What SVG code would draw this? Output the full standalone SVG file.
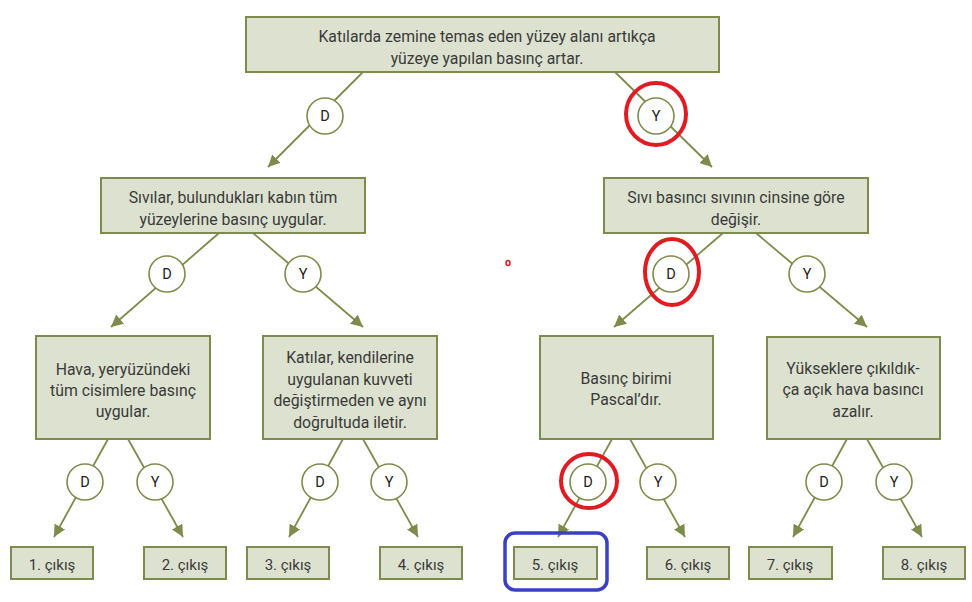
<svg xmlns="http://www.w3.org/2000/svg" width="972" height="602" viewBox="0 0 972 602">
<defs>
<style>
.box{fill:#dde2d0;stroke:#7d8c4c;stroke-width:2}
.t{font-family:Roboto,"Liberation Sans",sans-serif;font-size:15.8px;fill:#3a3a3a;text-anchor:middle}
.o{font-size:15px}
.c{fill:#fff;stroke:#7d8c4c;stroke-width:1.6}
.ct{font-family:Roboto,"Liberation Sans",sans-serif;font-size:14.5px;fill:#222;text-anchor:middle}
.ln{stroke:#7d8c4c;stroke-width:1.8;fill:none;marker-end:url(#ah)}
.red{fill:none;stroke:#e01b22;stroke-width:4}
</style>
<marker id="ah" markerUnits="userSpaceOnUse" markerWidth="14" markerHeight="12" refX="12" refY="6" orient="auto">
<path d="M0,0 L12,6 L0,12 Z" fill="#7d8c4c"/>
</marker>
</defs>
<rect width="972" height="602" fill="#fff"/>
<g id="connectors">
<line class="ln" x1="363" y1="72" x2="268" y2="167"/>
<line class="ln" x1="615" y1="72" x2="712" y2="167"/>
<line class="ln" x1="219" y1="233" x2="111" y2="327"/>
<line class="ln" x1="253" y1="233" x2="363" y2="327"/>
<line class="ln" x1="723" y1="233" x2="614" y2="327"/>
<line class="ln" x1="756" y1="233" x2="867" y2="327"/>
<line class="ln" x1="108" y1="439" x2="54" y2="537"/>
<line class="ln" x1="128" y1="439" x2="183" y2="537"/>
<line class="ln" x1="343" y1="439" x2="289" y2="537"/>
<line class="ln" x1="363" y1="439" x2="418" y2="537"/>
<line class="ln" x1="612" y1="439" x2="558" y2="537"/>
<line class="ln" x1="630" y1="439" x2="685" y2="537"/>
<line class="ln" x1="847" y1="439" x2="793" y2="537"/>
<line class="ln" x1="867" y1="439" x2="922" y2="537"/>
</g>
<g id="n-root"><rect class="box" x="246" y="17" width="473" height="55"/>
<text class="t" x="487" y="42">Katılarda zemine temas eden yüzey alanı artıkça</text>
<text class="t" x="487" y="64">yüzeye yapılan basınç artar.</text></g>
<g id="n-sivilar"><rect class="box" x="101" y="178" width="264" height="55"/>
<text class="t" x="233" y="203">Sıvılar, bulundukları kabın tüm</text>
<text class="t" x="233" y="225">yüzeylerine basınç uygular.</text></g>
<g id="n-sivi"><rect class="box" x="604" y="178" width="264" height="55"/>
<text class="t" x="736" y="203">Sıvı basıncı sıvının cinsine göre</text>
<text class="t" x="736" y="225">değişir.</text></g>
<g id="n-hava"><rect class="box" x="36" y="336" width="174" height="103"/>
<text class="t" x="123" y="375">Hava, yeryüzündeki</text>
<text class="t" x="123" y="396">tüm cisimlere basınç</text>
<text class="t" x="123" y="417">uygular.</text></g>
<g id="n-katilar"><rect class="box" x="263" y="336" width="174" height="103"/>
<text class="t" x="350" y="363">Katılar, kendilerine</text>
<text class="t" x="350" y="385">uygulanan kuvveti</text>
<text class="t" x="350" y="406">değiştirmeden ve aynı</text>
<text class="t" x="350" y="428">doğrultuda iletir.</text></g>
<g id="n-basinc"><rect class="box" x="540" y="336" width="173" height="103"/>
<text class="t" x="626" y="384">Basınç birimi</text>
<text class="t" x="626" y="405">Pascal’dır.</text></g>
<g id="n-yuksek"><rect class="box" x="767" y="337" width="173" height="102"/>
<text class="t" x="853" y="374">Yükseklere çıkıldık-</text>
<text class="t" x="853" y="395">ça açık hava basıncı</text>
<text class="t" x="853" y="417">azalır.</text></g>
<g id="circles">
<g id="c1"><circle class="c" cx="325" cy="116" r="18"/><text class="ct" x="325" y="121">D</text></g>
<g id="c2"><circle class="c" cx="656" cy="116" r="18"/><text class="ct" x="656" y="121">Y</text></g>
<g id="c3"><circle class="c" cx="167" cy="274" r="18"/><text class="ct" x="167" y="279">D</text></g>
<g id="c4"><circle class="c" cx="303" cy="274" r="18"/><text class="ct" x="303" y="279">Y</text></g>
<g id="c5"><circle class="c" cx="671" cy="274" r="18"/><text class="ct" x="671" y="279">D</text></g>
<g id="c6"><circle class="c" cx="807" cy="274" r="18"/><text class="ct" x="807" y="279">Y</text></g>
<g id="c7"><circle class="c" cx="85" cy="482" r="18"/><text class="ct" x="85" y="487">D</text></g>
<g id="c8"><circle class="c" cx="155" cy="482" r="18"/><text class="ct" x="155" y="487">Y</text></g>
<g id="c9"><circle class="c" cx="320" cy="482" r="18"/><text class="ct" x="320" y="487">D</text></g>
<g id="c10"><circle class="c" cx="389" cy="482" r="18"/><text class="ct" x="389" y="487">Y</text></g>
<g id="c11"><circle class="c" cx="588" cy="482" r="18"/><text class="ct" x="588" y="487">D</text></g>
<g id="c12"><circle class="c" cx="658" cy="482" r="18"/><text class="ct" x="658" y="487">Y</text></g>
<g id="c13"><circle class="c" cx="824" cy="482" r="18"/><text class="ct" x="824" y="487">D</text></g>
<g id="c14"><circle class="c" cx="894" cy="482" r="18"/><text class="ct" x="894" y="487">Y</text></g>
</g>
<g id="outputs">
<g id="o1"><rect class="box" x="11" y="547" width="82" height="32"/><text class="t o" x="52" y="570">1. çıkış</text></g>
<g id="o2"><rect class="box" x="144" y="547" width="82" height="32"/><text class="t o" x="185" y="570">2. çıkış</text></g>
<g id="o3"><rect class="box" x="247" y="547" width="82" height="32"/><text class="t o" x="288" y="570">3. çıkış</text></g>
<g id="o4"><rect class="box" x="380" y="547" width="82" height="32"/><text class="t o" x="421" y="570">4. çıkış</text></g>
<g id="o5"><rect class="box" x="514" y="547" width="83" height="32"/><text class="t o" x="555" y="570">5. çıkış</text></g>
<g id="o6"><rect class="box" x="647" y="547" width="82" height="32"/><text class="t o" x="688" y="570">6. çıkış</text></g>
<g id="o7"><rect class="box" x="749" y="547" width="83" height="32"/><text class="t o" x="790" y="570">7. çıkış</text></g>
<g id="o8"><rect class="box" x="883" y="547" width="82" height="32"/><text class="t o" x="924" y="570">8. çıkış</text></g>
</g>
<g id="marks">
<ellipse class="red" cx="656" cy="114" rx="30" ry="31"/>
<ellipse class="red" cx="672" cy="272" rx="27" ry="33"/>
<ellipse class="red" cx="589" cy="481" rx="28" ry="27"/>
<rect x="505" y="533" width="102" height="57" rx="10" fill="none" stroke="#3b3fc4" stroke-width="3.5"/>
<ellipse cx="508" cy="263" rx="2" ry="2.5" fill="#fff" stroke="#e01b22" stroke-width="1.5"/>
</g>
</svg>
